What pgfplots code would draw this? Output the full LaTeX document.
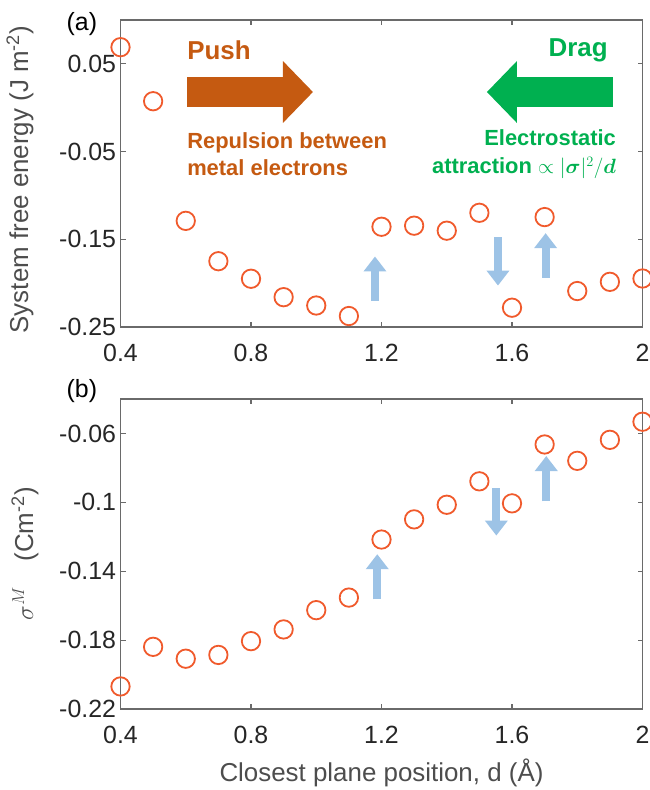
\documentclass[border=0pt]{standalone}
\usepackage{amsmath}
\usepackage{fontspec}
\setmainfont{Liberation Sans}
\usepackage{pgfplots}
\pgfplotsset{compat=1.18}
\usetikzlibrary{arrows.meta}
\definecolor{markc}{HTML}{F05A2C}
\definecolor{arrblue}{HTML}{9DC3E6}
\definecolor{pushc}{HTML}{C55A11}
\definecolor{dragc}{HTML}{00B050}
\definecolor{spinec}{HTML}{6A6A6A}
\definecolor{tickc}{HTML}{262626}
\definecolor{labc}{HTML}{4D4D4D}
\tikzset{barr/.style={line width=8bp, arrblue, -{Triangle[width=22bp,length=15bp]}}}
\pgfplotsset{
  common/.style={
    scale only axis, width=522bp, xmin=0.4, xmax=2,
    xtick={0.4,0.8,1.2,1.6,2}, xticklabels={0.4,0.8,1.2,1.6,2},
    tick align=inside, major tick length=5bp,
    axis line style={spinec, line width=1.2bp},
    every tick/.style={spinec, line width=1.2bp},
    ticklabel style={font=\fontsize{25}{29}\selectfont, text=tickc},
    xticklabel style={yshift=-14bp},
    yticklabel style={xshift=-1bp},
    label style={font=\fontsize{26}{30}\selectfont, text=labc},
    clip=false,
  },
  pts/.style={only marks, mark=o, mark size=9.2bp, mark options={draw=markc, line width=1.8bp}},
}
\begin{document}
\begin{tikzpicture}
\path[use as bounding box] (0,0) rectangle (650bp,790bp);
% ---------- (a) ----------
\begin{axis}[common, at={(120.5bp,463bp)}, anchor=south west, height=307bp,
  ymin=-0.25, ymax=0.1,
  ytick={-0.25,-0.15,-0.05,0.05}, yticklabels={-0.25,-0.15,-0.05,0.05},
  ylabel={System free energy (J m\textsuperscript{-2})},
  ylabel style={at={(axis description cs:-0.1925,0.48)}, anchor=center},
]
\addplot[pts] coordinates {
(0.4,0.069) (0.5,0.0074) (0.6,-0.129) (0.7,-0.175) (0.8,-0.195)
(0.9,-0.216) (1.0,-0.2255) (1.1,-0.2375) (1.2,-0.1357) (1.3,-0.1345)
(1.4,-0.1402) (1.5,-0.1198) (1.6,-0.228) (1.7,-0.1247) (1.8,-0.209)
(1.9,-0.1985) (2.0,-0.1947)};
\draw[barr] (axis cs:1.18,-0.2206) -- (axis cs:1.18,-0.1696);
\draw[barr] (axis cs:1.557,-0.1477) -- (axis cs:1.557,-0.2028);
\draw[barr] (axis cs:1.703,-0.194) -- (axis cs:1.703,-0.143);
\draw[line width=30bp, pushc, -{Triangle[width=60bp,length=30bp]}] (axis cs:0.604,0.0179) -- (axis cs:0.99,0.0179);
\draw[line width=30bp, dragc, -{Triangle[width=60bp,length=30bp]}] (axis cs:1.91,0.0179) -- (axis cs:1.523,0.0179);
\node[anchor=west, inner sep=0, text=pushc, font=\bfseries\fontsize{26}{30}\selectfont] at (axis cs:0.604,0.0658) {Push};
\node[anchor=east, inner sep=0, text=dragc, font=\bfseries\fontsize{26}{30}\selectfont] at (axis cs:1.894,0.0658) {Drag};
\node[anchor=west, inner sep=0, text=pushc, align=left, font=\bfseries\fontsize{22}{28}\selectfont] at (axis cs:0.604,-0.053) {Repulsion between\\metal electrons};
\node[anchor=east, inner sep=0, text=dragc, align=right, font=\bfseries\fontsize{22}{28}\selectfont] at (axis cs:1.919,-0.053) {Electrostatic\\attraction $\propto|\boldsymbol{\sigma}|^{2}/\boldsymbol{d}$};
\node[font=\fontsize{25}{29}\selectfont, text=black] at (axis description cs:-0.074,0.987) {(a)};
\end{axis}
% ---------- (b) ----------
\begin{axis}[common, at={(120.5bp,81bp)}, anchor=south west, height=310bp,
  ymin=-0.22, ymax=-0.04,
  ytick={-0.22,-0.18,-0.14,-0.1,-0.06}, yticklabels={-0.22,-0.18,-0.14,-0.1,-0.06},
  xlabel={Closest plane position, d (Å)},
  xlabel style={at={(axis description cs:0.5,-0.207)}, anchor=center},
  ylabel={$\sigma^{M}$\quad(Cm\textsuperscript{-2})},
  ylabel style={at={(axis description cs:-0.183,0.5)}, anchor=center},
]
\addplot[pts] coordinates {
(0.4,-0.2069) (0.5,-0.1839) (0.6,-0.1908) (0.7,-0.1886) (0.8,-0.1806)
(0.9,-0.1738) (1.0,-0.1626) (1.1,-0.1553) (1.2,-0.1216) (1.3,-0.1099)
(1.4,-0.1014) (1.5,-0.0878) (1.6,-0.1006) (1.7,-0.0664) (1.8,-0.0759)
(1.9,-0.0637) (2.0,-0.0532)};
\draw[barr] (axis cs:1.187,-0.1564) -- (axis cs:1.187,-0.1301);
\draw[barr] (axis cs:1.552,-0.0917) -- (axis cs:1.552,-0.1193);
\draw[barr] (axis cs:1.705,-0.0994) -- (axis cs:1.705,-0.0731);
\node[font=\fontsize{25}{29}\selectfont, text=black] at (axis description cs:-0.074,1.026) {(b)};
\end{axis}
\end{tikzpicture}
\end{document}
